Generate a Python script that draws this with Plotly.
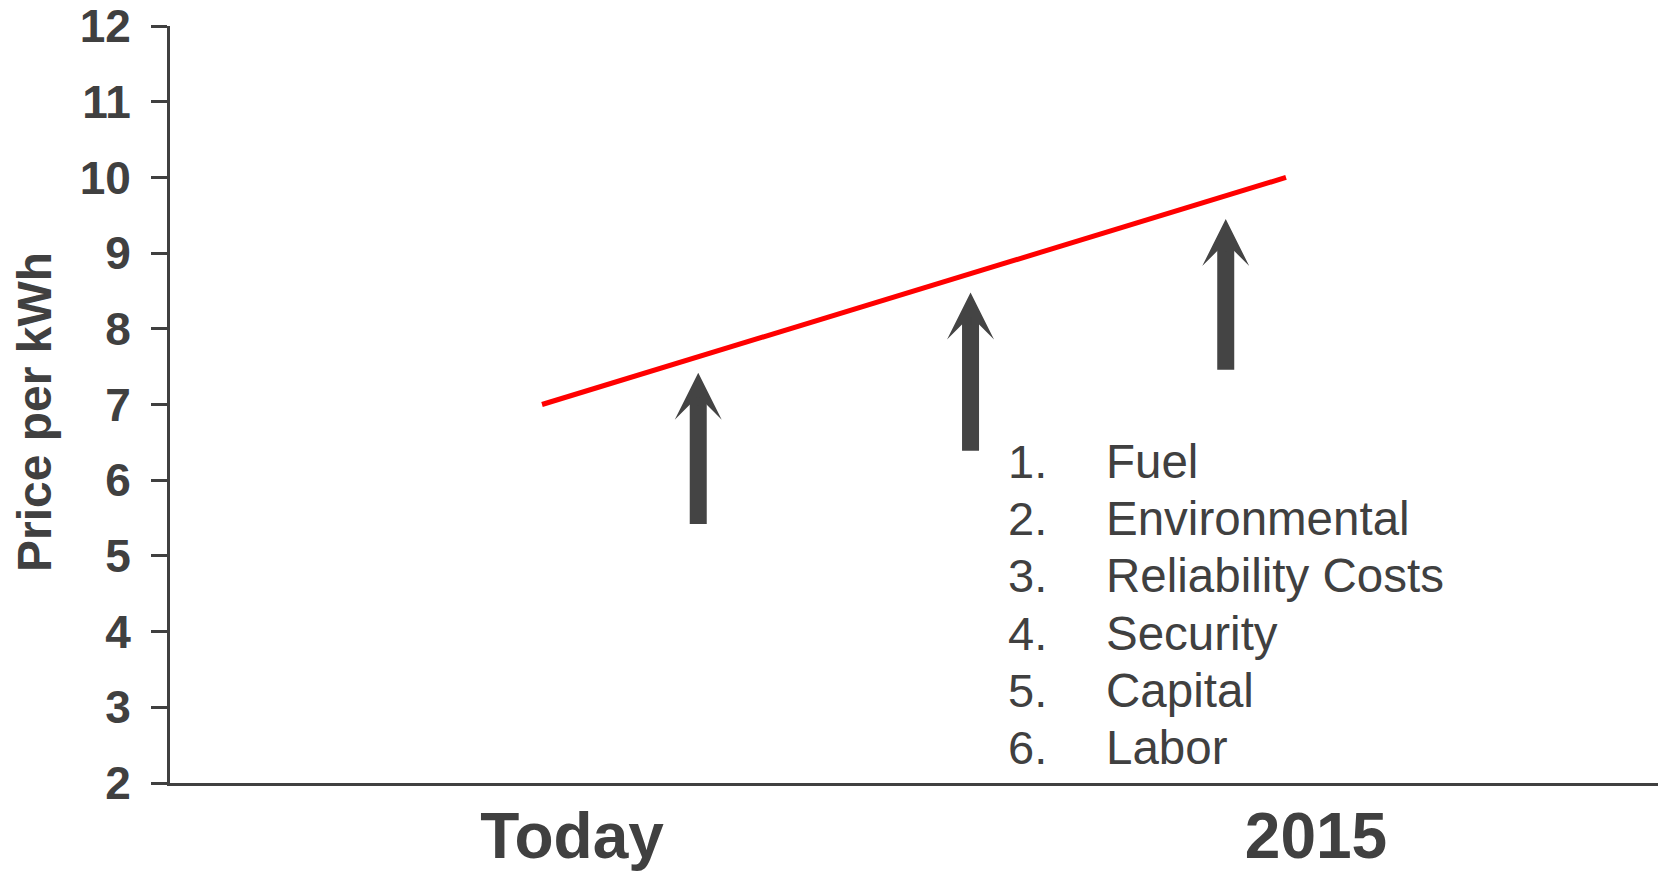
import plotly.graph_objects as go

# ---- data ----
periods = ["Today", "2015"]
price = [7, 10]
y_ticks = list(range(2, 13))

# cost-driver arrows (category-index x, price-scale start/end)
arrow_x = [0.21, 0.576, 0.919]
arrow_start = [5.40, 6.37, 7.44]
arrow_end = [7.42, 8.48, 9.45]

factors = ["Fuel", "Environmental", "Reliability Costs", "Security", "Capital", "Labor"]

GRAY = "#404040"
ARROW = "#444444"
FONT = "Liberation Sans, Arial, sans-serif"

fig = go.Figure()
fig.add_trace(go.Scatter(
    x=periods, y=price, mode="lines",
    line=dict(color="#FF0000", width=5),
    hoverinfo="skip", showlegend=False,
))

annotations = []
for xa, y0, y1 in zip(arrow_x, arrow_start, arrow_end):
    # shaft (ends inside the head)
    annotations.append(dict(
        x=xa, y=y1 - 0.32, ax=xa, ay=y0, xref="x", yref="y", axref="x", ayref="y",
        text="", showarrow=True, arrowhead=0, arrowwidth=17,
        arrowcolor=ARROW, standoff=0,
    ))
    # head
    annotations.append(dict(
        x=xa, y=y1, ax=xa, ay=y1 - 0.45, xref="x", yref="y", axref="x", ayref="y",
        text="", showarrow=True, arrowhead=3, arrowwidth=1, arrowsize=7.83,
        arrowcolor=ARROW, standoff=0,
    ))

# numbered list of factors
for i, name in enumerate(factors):
    yp = 0.4252 - i * 0.0757
    annotations.append(dict(
        x=0.5618, y=yp, xref="paper", yref="paper", xanchor="left", yanchor="middle",
        text=f"{i + 1}.", showarrow=False,
        font=dict(family=FONT, size=47, color=GRAY),
    ))
    annotations.append(dict(
        x=0.6277, y=yp, xref="paper", yref="paper", xanchor="left", yanchor="middle",
        text=name, showarrow=False,
        font=dict(family=FONT, size=47.5, color=GRAY),
    ))

# y-axis title
annotations.append(dict(
    x=-0.0914, y=0.4900, xref="paper", yref="paper", xanchor="center", yanchor="middle",
    text="Price per kWh", textangle=-90, showarrow=False,
    font=dict(family=FONT, size=48, color=GRAY, weight="bold"),
))

fig.update_layout(
    width=1664, height=873,
    margin=dict(l=170, r=6, t=26, b=90, autoexpand=False),
    plot_bgcolor="white", paper_bgcolor="white",
    showlegend=False,
    annotations=annotations,
    xaxis=dict(
        type="category", range=[-0.5, 1.5],
        showline=True, linewidth=3, linecolor=GRAY,
        ticks="", showgrid=False, zeroline=False, automargin=False,
        tickfont=dict(family=FONT, size=64, color=GRAY, weight="bold"),
        ticklabelshift=30, ticklabelstandoff=-5,
    ),
    yaxis=dict(
        range=[2, 12], tickvals=y_ticks,
        showline=True, linewidth=3, linecolor=GRAY,
        ticks="outside", ticklen=16, tickwidth=3, tickcolor=GRAY,
        showgrid=False, zeroline=False, automargin=False,
        tickfont=dict(family=FONT, size=46, color=GRAY, weight="bold"),
        ticklabelstandoff=11, ticklabeloverflow="allow",
    ),
)

fig.write_html("out.html")
